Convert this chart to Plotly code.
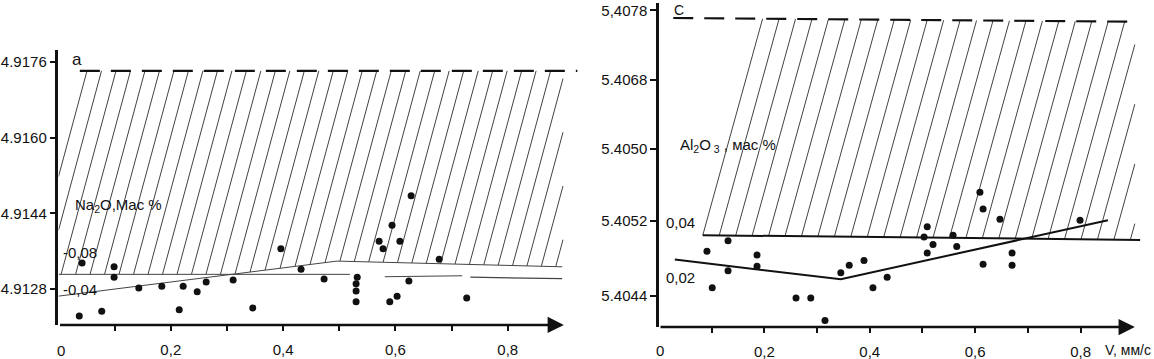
import numpy as np
import plotly.graph_objects as go

# ---------------- Panel a: Na2O ----------------
a_x = [0.042, 0.099, 0.099, 0.143, 0.184, 0.222, 0.247, 0.263, 0.311, 0.037,
       0.077, 0.215, 0.346, 0.396, 0.432, 0.473, 0.532, 0.530, 0.530, 0.530,
       0.628, 0.594, 0.571, 0.608, 0.578, 0.678, 0.624, 0.603, 0.590, 0.727]
a_y = [4.91335, 4.91327, 4.91305, 4.91282, 4.91286, 4.91286, 4.91274, 4.91295, 4.91299, 4.91223,
       4.91233, 4.91236, 4.91240, 4.91365, 4.91322, 4.91301, 4.91305, 4.91291, 4.91276, 4.91253,
       4.91477, 4.91415, 4.91381, 4.91381, 4.91365, 4.91343, 4.91297, 4.91265, 4.91253, 4.91261]

a_rise_x = [0.0, 0.496, 0.897]
a_rise_y = [4.91265, 4.91339, 4.91327]
a_base_x = [0.0, 0.519]
a_base_y = [4.91311, 4.91311]
a_seg2_x = [0.581, 0.719]
a_seg2_y = [4.91306, 4.91308]
a_seg3_x = [0.7335, 0.897]
a_seg3_y = [4.91305, 4.91302]
a_upper_x = [0.038, 0.924]
a_upper_y = [4.91741, 4.91741]

a_ytick_vals = [4.9128, 4.9144, 4.9160, 4.9176]
a_ytick_text = ["4.9128", "4.9144", "4.9160", "4.9176"]

# ---------------- Panel c: Al2O3 ----------------
c_x = [0.091, 0.131, 0.186, 0.186, 0.131, 0.101, 0.260, 0.288, 0.315, 0.345,
       0.361, 0.389, 0.406, 0.433, 0.509, 0.503, 0.520, 0.509, 0.558, 0.565,
       0.609, 0.615, 0.647, 0.615, 0.670, 0.670, 0.799]
c_y = [5.40488, 5.40499, 5.40484, 5.40472, 5.40467, 5.40449, 5.40438, 5.40438, 5.40414, 5.40465,
       5.40473, 5.40478, 5.40449, 5.40460, 5.40514, 5.40503, 5.40495, 5.40486, 5.40505, 5.40493,
       5.40551, 5.40533, 5.40522, 5.40474, 5.40486, 5.40473, 5.40521]

c_level_x = [0.083, 0.913]
c_level_y = [5.40505, 5.40500]
c_trend_x = [0.030, 0.345, 0.852]
c_trend_y = [5.40479, 5.40458, 5.40521]
c_upper_x = [0.027, 0.903]
c_upper_y = [5.40737, 5.40733]

c_ytick_vals = [5.40440, 5.40520, 5.40597, 5.40671, 5.40745]
c_ytick_text = ["5.4044", "5.4052", "5.4050", "5.4068", "5,4078"]

x_tick_vals = [0.2, 0.4, 0.6, 0.8]
x_tick_text = ["0,2", "0,4", "0,6", "0,8"]
x_minor_vals = [0.1, 0.3, 0.5, 0.7]

FONT = "Liberation Sans, Arial, sans-serif"
INK = "#111111"


def hatch(x_first, step, k, xl, xr, top_fn, bottom_fn, ylo, yhi, n):
    hx, hy = [], []
    ys = np.linspace(ylo, yhi, 4000)
    for i in range(n):
        xt = x_first + i * step
        xs = xt - k * (yhi - ys)
        m = (xs >= xl) & (xs <= xr) & (ys >= bottom_fn(xs)) & (ys <= top_fn(xs))
        if m.sum() < 2:
            continue
        idx = np.where(m)[0]
        hx += [xs[idx[0]], xs[idx[-1]], None]
        hy += [ys[idx[0]], ys[idx[-1]], None]
    return hx, hy


def a_bottom(x):
    rise = np.interp(x, a_rise_x, a_rise_y)
    base = np.where(x <= a_base_x[-1], np.interp(x, a_base_x, a_base_y), -np.inf)
    return np.maximum(rise, base)


def a_top(x):
    return np.interp(x, a_upper_x, a_upper_y)


def c_bottom(x):
    return np.interp(x, c_level_x, c_level_y)


def c_top(x):
    return np.interp(x, c_upper_x, c_upper_y)


ahx, ahy = hatch(0.0508, 0.0258, 22.74, 0.0, 0.8985, a_top, a_bottom,
                 4.9120, a_upper_y[0], 45)
chx, chy = hatch(0.197, 0.0313, 49.1, 0.0, 0.903, c_top, c_bottom,
                 5.4040, c_upper_y[0], 30)

fig = go.Figure()

# panel a
fig.add_trace(go.Scatter(x=ahx, y=ahy, mode="lines", line=dict(color=INK, width=0.8),
                         xaxis="x", yaxis="y", hoverinfo="skip"))
fig.add_trace(go.Scatter(x=a_upper_x, y=a_upper_y, mode="lines",
                         line=dict(color=INK, width=2.2, dash="20px,11px"), xaxis="x", yaxis="y"))
for lx, ly, w in [(a_base_x, a_base_y, 1.0), (a_rise_x, a_rise_y, 1.0),
                  (a_seg2_x, a_seg2_y, 1.0), (a_seg3_x, a_seg3_y, 1.3)]:
    fig.add_trace(go.Scatter(x=lx, y=ly, mode="lines", line=dict(color="#444444", width=w),
                             xaxis="x", yaxis="y"))
fig.add_trace(go.Scatter(x=a_x, y=a_y, mode="markers", marker=dict(color=INK, size=7),
                         xaxis="x", yaxis="y"))

# panel c
fig.add_trace(go.Scatter(x=chx, y=chy, mode="lines", line=dict(color=INK, width=0.8),
                         xaxis="x2", yaxis="y2", hoverinfo="skip"))
fig.add_trace(go.Scatter(x=c_upper_x, y=c_upper_y, mode="lines",
                         line=dict(color=INK, width=2.2, dash="20px,11px"), xaxis="x2", yaxis="y2"))
fig.add_trace(go.Scatter(x=c_level_x, y=c_level_y, mode="lines", line=dict(color=INK, width=2.0),
                         xaxis="x2", yaxis="y2"))
fig.add_trace(go.Scatter(x=c_trend_x, y=c_trend_y, mode="lines", line=dict(color=INK, width=2.0),
                         xaxis="x2", yaxis="y2"))
fig.add_trace(go.Scatter(x=c_x, y=c_y, mode="markers", marker=dict(color=INK, size=7),
                         xaxis="x2", yaxis="y2"))

A_YR = [4.91204, 4.91785]
C_YR = [5.40407, 5.40753]

xcommon = dict(showgrid=False, zeroline=False, showline=False, automargin=False,
               ticks="outside", ticklen=5, tickwidth=1.5, tickcolor=INK, tickmode="array",
               tickvals=x_tick_vals, ticktext=x_tick_text, ticklabelstandoff=6,
               minor=dict(tickvals=x_minor_vals, ticks="outside", ticklen=5, tickwidth=1.5,
                          tickcolor=INK, showgrid=False),
               tickfont=dict(family=FONT, size=15, color=INK))
ycommon = dict(showgrid=False, zeroline=False, showline=True, linewidth=2.5, linecolor=INK,
               automargin=False, ticks="outside", ticklen=6, tickwidth=1.5, tickcolor=INK,
               tickmode="array", ticklabeloverflow="allow",
               tickfont=dict(family=FONT, size=15, color=INK))

fig.update_layout(
    width=1154, height=359, margin=dict(l=0, r=0, t=0, b=0),
    paper_bgcolor="white", plot_bgcolor="white", showlegend=False,
    xaxis=dict(domain=[0.05069, 0.50321], range=[0, 0.93], anchor="y", **xcommon),
    yaxis=dict(domain=[0.0947, 0.8607], range=A_YR, anchor="x",
               tickvals=a_ytick_vals, ticktext=a_ytick_text, **ycommon),
    xaxis2=dict(domain=[0.57106, 0.99116], range=[0, 0.92], anchor="y2", **xcommon),
    yaxis2=dict(domain=[0.08914, 0.99164], range=C_YR, anchor="x2",
                tickvals=c_ytick_vals, ticktext=c_ytick_text, **ycommon),
)

tf = dict(family=FONT, size=15, color=INK)
ann = [
    # x-axis arrows
    dict(x=0.9, y=A_YR[0], ax=0, ay=A_YR[0], xref="x", yref="y", axref="x", ayref="y",
         showarrow=True, arrowhead=2, arrowsize=1.3, arrowwidth=2.5, arrowcolor=INK, text=""),
    dict(x=0.903, y=C_YR[0], ax=0, ay=C_YR[0], xref="x2", yref="y2", axref="x2", ayref="y2",
         showarrow=True, arrowhead=2, arrowsize=1.3, arrowwidth=2.5, arrowcolor=INK, text=""),
    # origin labels
    dict(x=0.004, y=0.025, xref="x", yref="paper", text="0", showarrow=False, font=tf,
         yanchor="middle"),
    dict(x=0.002, y=0.025, xref="x2", yref="paper", text="0", showarrow=False, font=tf,
         yanchor="middle"),
    dict(x=1153 / 1154, y=0.025, xref="paper", yref="paper", text="V, мм/с", showarrow=False,
         font=dict(family=FONT, size=14, color=INK), xanchor="right", yanchor="middle"),
    # panel a texts
    dict(x=0.033, y=4.91765, xref="x", yref="y", text="a", showarrow=False,
         font=dict(family=FONT, size=17, color=INK)),
    dict(x=0.026, y=4.91456, xref="x", yref="y", text="Na<sub>2</sub>O,Mac %", showarrow=False,
         font=tf, xanchor="left"),
    dict(x=0.005, y=4.91358, xref="x", yref="y", text="-0,08", showarrow=False,
         font=tf, xanchor="left"),
    dict(x=0.005, y=4.91280, xref="x", yref="y", text="-0,04", showarrow=False,
         font=tf, xanchor="left"),
    # panel c texts
    dict(x=0.038, y=5.40745, xref="x2", yref="y2", text="C", showarrow=False,
         font=dict(family=FONT, size=14, color=INK)),
    dict(x=0.036, y=5.40601, xref="x2", yref="y2", text="Al<sub>2</sub>O<sub> 3</sub> , мас %",
         showarrow=False, font=tf, xanchor="left"),
    dict(x=0.009, y=5.40519, xref="x2", yref="y2", text="0,04", showarrow=False,
         font=tf, xanchor="left"),
    dict(x=0.009, y=5.40460, xref="x2", yref="y2", text="0,02", showarrow=False,
         font=tf, xanchor="left"),
]
fig.update_layout(annotations=ann)

fig.write_html("out.html", config={"displayModeBar": False},
               post_script="document.body.style.margin='0px';")
